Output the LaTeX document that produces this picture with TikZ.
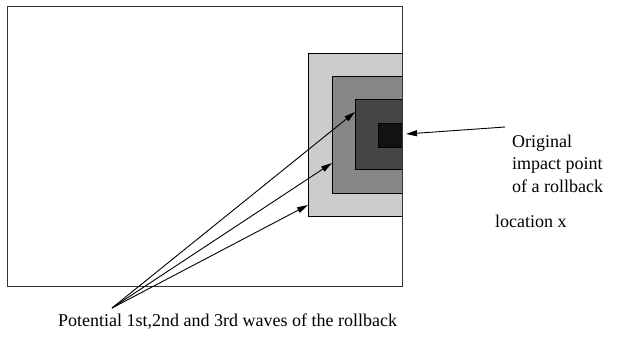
\documentclass[tikz,border=0pt]{standalone}
\usepackage{fontspec}
\setmainfont{Liberation Serif}
\usetikzlibrary{arrows.meta}
\begin{document}
\begin{tikzpicture}[x=1pt,y=-1pt,
  wave/.style={draw=black,line width=0.8pt},
  ptr/.style={draw=black,line width=0.9pt,-{Triangle[length=11pt,width=6pt]}},
  lbl/.style={font=\fontsize{18}{22.5}\selectfont,inner sep=0pt}]
\useasboundingbox (0,0) rectangle (620,338);
\fill[white] (0,0) rectangle (620,338);
\draw[line width=1pt,draw=black!80] (7,6) rectangle (402,286);
\filldraw[wave,fill=black!20] (308,53) rectangle (402,216);
\filldraw[wave,fill=black!47] (332,76) rectangle (402,193);
\filldraw[wave,fill=black!73] (355,99) rectangle (402,169);
\filldraw[wave,fill=black!93] (378,123) rectangle (402,147);
\draw[line width=1pt,draw=black!80] (402,6) -- (402,286);
\coordinate (src) at (112,308);
\coordinate (t1) at (355,112);
\coordinate (t2) at (332,163);
\coordinate (t3) at (308,205);
\coordinate (os) at (505,127);
\coordinate (ot) at (406,134);
\draw[ptr] (src) -- (t1);
\draw[ptr] (src) -- (t2);
\draw[ptr] (src) -- (t3);
\draw[ptr] (os) -- (ot);
\node[lbl,anchor=base west,align=left] (orig) at (512,192) {Original\\impact point\\of a rollback};
\node[lbl,anchor=base west] (loc) at (495,227) {location x};
\node[lbl,anchor=base west] (cap) at (58,326) {Potential 1st,2nd and 3rd waves of the rollback};
\end{tikzpicture}
\end{document}
